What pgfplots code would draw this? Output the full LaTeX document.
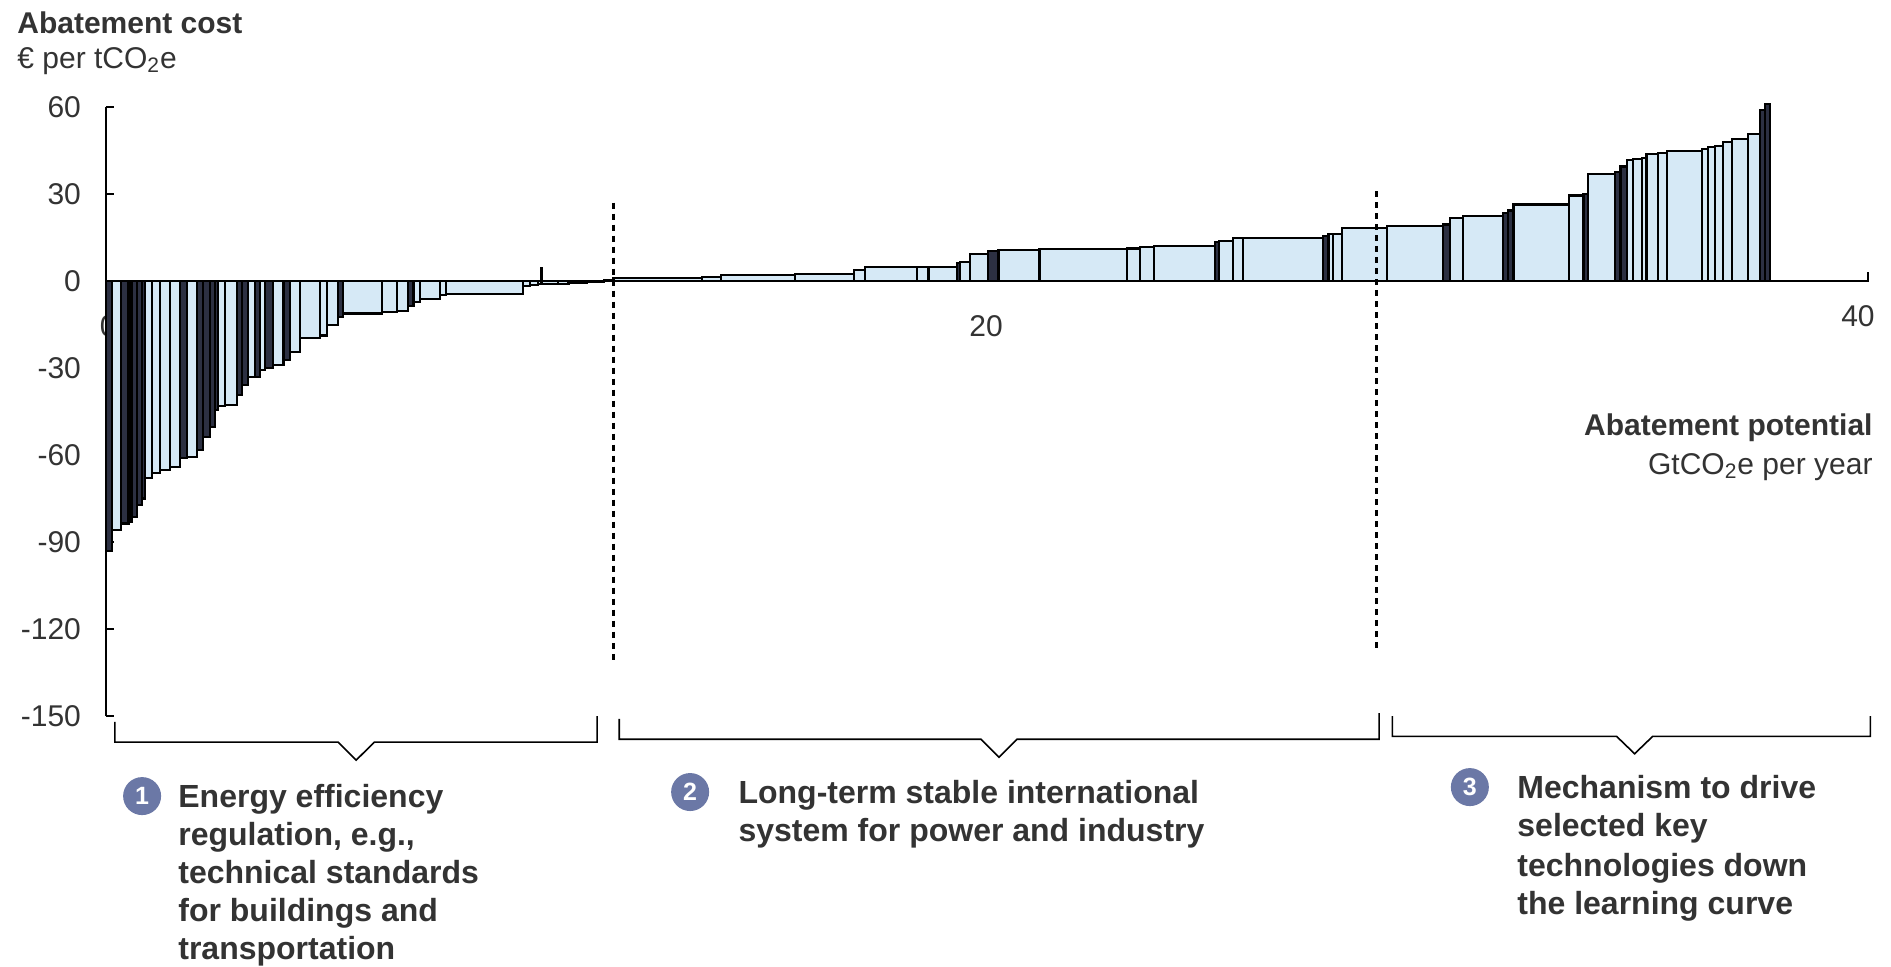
\documentclass[border=0pt]{standalone}
\usepackage{fontspec}
\setmainfont{Liberation Sans}
\usepackage{pgfplots}
\pgfplotsset{compat=1.18}
\usepackage{pgfplotstable}
\definecolor{txt}{HTML}{333333}
\definecolor{lightbar}{HTML}{D6E9F6}
\definecolor{darkbar}{HTML}{2C3042}
\definecolor{circ}{HTML}{6B78A6}

% x = start of each measure (GtCO2e), yl = cost (EUR/t), yd = cost if bar drawn dark (0 otherwise)
\pgfplotstableread{
x      yl     yd
0.00   -93    -93
0.13   -86    0
0.35   -83.6  -83.6
0.51   -83    0
0.58   -81.3  -81.3
0.70   -77.2  -77.2
0.81   -75    -75
0.885  -68    0
1.04   -66.3  0
1.23   -65.2  0
1.45   -64    0
1.68   -61.1  -61.1
1.83   -60.6  0
2.06   -58.3  -58.3
2.21   -53.7  -53.7
2.36   -50.2  -50.2
2.47   -44.5  -44.5
2.55   -43    0
2.70   -42.8  0
2.97   -39.3  -39.3
3.08   -35.9  -35.9
3.23   -33    0
3.38   -33    -33
3.50   -30.7  0
3.61   -30.1  -30.1
3.80   -29    0
4.03   -27.2  -27.2
4.18   -24.4  0
4.40   -19.8  0
4.86   -18.8  0
5.01   -15.2  0
5.27   -12.3  -12.3
5.39   -11.2  0
6.26   -10.6  0
6.60   -10.4  0
6.86   -8.5   -8.5
6.98   -7.1   0
7.13   -6.2   0
7.58   -4.8   0
7.72   -4.4   0
9.47   -1.8   0
9.63   -1.4   0
9.81   -1.0   0
9.87   4.5    0
9.90   -1.0   0
10.27  -1.0   0
10.50  -0.8   0
10.91  -0.4   0
11.30  0.3    0
11.52  1.1    0
13.52  1.5    0
13.97  2.1    0
15.65  2.5    0
16.97  3.8    0
17.23  4.9    0
18.40  4.9    0
18.67  4.9    0
19.31  6.1    6.1
19.39  6.7    0
19.61  9.3    0
20.03  10.5   10.5
20.26  10.8   0
21.19  11.0   0
23.17  11.2   0
23.47  11.7   0
23.78  12.2   0
25.18  13.6   13.6
25.26  13.9   0
25.59  14.7   0
25.82  14.7   0
27.63  15.5   15.5
27.75  16.1   0
27.86  16.3   0
28.05  18.2   0
29.07  19.0   0
30.36  19.5   19.5
30.51  21.8   0
30.81  22.5   0
31.72  23.5   23.5
31.83  24.3   24.3
31.95  26.4   0
33.20  29.5   0
33.54  30     30
33.65  37     0
34.26  37.5   37.5
34.38  39.5   39.5
34.53  41.6   0
34.67  42.2   0
34.86  42.4   0
34.97  43.7   0
35.24  44     0
35.43  44.8   0
36.22  45.6   0
36.37  46.2   0
36.52  46.5   0
36.71  47.9   0
36.90  49.1   0
37.28  50.8   0
37.55  59     59
37.66  61     61
37.78  0      0
}\mac

\newcommand\lblfont{\fontsize{15}{18}\selectfont}
\newcommand\bfont{\fontsize{16}{19}\selectfont\bfseries}

\begin{document}
\begin{tikzpicture}
\begin{axis}[
  x=22.025pt, y=1.45pt,
  xmin=0, xmax=40, ymin=-150, ymax=60,
  axis x line=none, axis y line=left,
  axis line style={-, line width=1pt, black},
  xtick=\empty,
  ytick={-150,-120,-90,-60,-30,0,30,60},
  tick align=inside,
  major tick length=4pt,
  ytick style={line width=1pt, black},
  /pgf/number format/assume math mode=true,
  yticklabel style={font=\lblfont, text=txt, xshift=-9pt},
  clip=false,
  set layers,
]
\node[on layer=axis background, font=\lblfont, text=txt] at (axis cs:0.05,-15.5) {0};

% bar fills (step areas)
\addplot[const plot, fill=lightbar, draw=none] table[x=x, y=yl] {\mac} \closedcycle;
\addplot[const plot, fill=darkbar, draw=none] table[x=x, y=yd] {\mac} \closedcycle;
% bar outlines: tops and risers, then dividers from zero
\addplot[const plot, draw=black, line width=1.05pt, mark=none] table[x=x, y=yl] {\mac};
\addplot[ycomb, draw=black, line width=1.05pt, mark=none] table[x=x, y=yl] {\mac};

\draw[line width=1pt] (axis cs:0,0) -- (axis cs:40,0) -- (axis cs:40,3);

\node[font=\lblfont, text=txt] at (axis cs:19.98,-15.5) {20};
\node[font=\lblfont, text=txt] at (axis cs:39.77,-12) {40};

% dashed separators
\draw[line width=1.1pt, dash pattern=on 3pt off 2.5pt] (axis cs:11.52,27) -- (axis cs:11.52,-131);
\draw[line width=1.1pt, dash pattern=on 3pt off 2.5pt] (axis cs:28.84,31) -- (axis cs:28.84,-128);

% axis titles
\node[anchor=base west, inner sep=0pt, font=\lblfont\bfseries, text=txt] at (axis cs:-2.02,85.5) {Abatement cost};
\node[anchor=base west, inner sep=0pt, font=\lblfont, text=txt] at (axis cs:-2.02,73.4) {€ per tCO\textsubscript{2}e};
\node[anchor=base east, inner sep=0pt, font=\lblfont\bfseries, text=txt] at (axis cs:40.11,-53.1) {Abatement potential};
\node[anchor=base east, inner sep=0pt, font=\lblfont, text=txt] at (axis cs:40.11,-66.6) {GtCO\textsubscript{2}e per year};

% brackets
\draw[line width=0.8pt] (axis cs:0.2,-152) -- (axis cs:0.2,-159) -- (axis cs:5.27,-159) -- (axis cs:5.68,-165.2) -- (axis cs:6.09,-159) -- (axis cs:11.15,-159) -- (axis cs:11.15,-150);
\draw[line width=0.8pt] (axis cs:11.65,-151) -- (axis cs:11.65,-158) -- (axis cs:19.86,-158) -- (axis cs:20.27,-164.2) -- (axis cs:20.68,-158) -- (axis cs:28.9,-158) -- (axis cs:28.9,-149);
\draw[line width=0.8pt] (axis cs:29.2,-150) -- (axis cs:29.2,-157) -- (axis cs:34.29,-157) -- (axis cs:34.7,-163) -- (axis cs:35.11,-157) -- (axis cs:40.05,-157) -- (axis cs:40.05,-150);

% numbered circles
\node[circle, fill=circ, inner sep=0pt, minimum size=19pt, text=white, font=\fontsize{12.5}{14}\selectfont\bfseries] at (axis cs:0.82,-177.6) {1};
\node[circle, fill=circ, inner sep=0pt, minimum size=19pt, text=white, font=\fontsize{12.5}{14}\selectfont\bfseries] at (axis cs:13.26,-176.2) {2};
\node[circle, fill=circ, inner sep=0pt, minimum size=19pt, text=white, font=\fontsize{12.5}{14}\selectfont\bfseries] at (axis cs:30.96,-174.5) {3};

% group texts
\node[anchor=base west, inner sep=0pt, font=\bfont, text=txt] at (axis cs:1.634,-181.4) {Energy efficiency};
\node[anchor=base west, inner sep=0pt, font=\bfont, text=txt] at (axis cs:1.634,-194.5) {regulation, e.g.,};
\node[anchor=base west, inner sep=0pt, font=\bfont, text=txt] at (axis cs:1.634,-207.6) {technical standards};
\node[anchor=base west, inner sep=0pt, font=\bfont, text=txt] at (axis cs:1.634,-220.7) {for buildings and};
\node[anchor=base west, inner sep=0pt, font=\bfont, text=txt] at (axis cs:1.634,-233.8) {transportation};

\node[anchor=base west, inner sep=0pt, font=\bfont, text=txt] at (axis cs:14.35,-180) {Long-term stable international};
\node[anchor=base west, inner sep=0pt, font=\bfont, text=txt] at (axis cs:14.35,-193.4) {system for power and industry};

\node[anchor=base west, inner sep=0pt, font=\bfont, text=txt] at (axis cs:32.03,-178.3) {Mechanism to drive};
\node[anchor=base west, inner sep=0pt, font=\bfont, text=txt] at (axis cs:32.03,-191.7) {selected key};
\node[anchor=base west, inner sep=0pt, font=\bfont, text=txt] at (axis cs:32.03,-205.2) {technologies down};
\node[anchor=base west, inner sep=0pt, font=\bfont, text=txt] at (axis cs:32.03,-218.3) {the learning curve};

\coordinate (bbsw) at (axis cs:-2.406,-236.2);
\coordinate (bbne) at (axis cs:40.52,96.9);
\end{axis}
\pgfresetboundingbox
\useasboundingbox (bbsw) rectangle (bbne);
\end{tikzpicture}
\end{document}
